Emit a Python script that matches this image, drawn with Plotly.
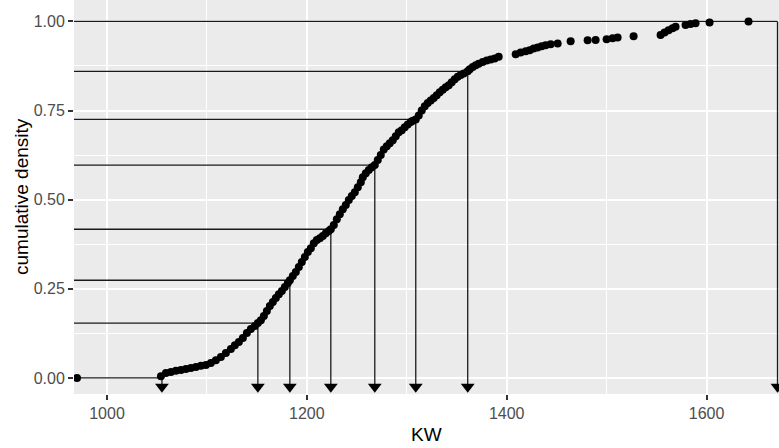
import plotly.graph_objects as go

# Empirical cumulative distribution of KW (sorted sample value, cumulative density)
KW = [
    970, 1054, 1059, 1064, 1069, 1074, 1079, 1084, 1089, 1094,
    1099, 1104, 1109, 1114, 1119, 1124, 1128, 1132, 1136, 1140,
    1144, 1148, 1151, 1154, 1157, 1160, 1163, 1166, 1169, 1172,
    1175, 1178, 1181, 1183, 1186, 1189, 1192, 1195, 1198, 1201,
    1204, 1207, 1210, 1213, 1216, 1219, 1222, 1224, 1227, 1230,
    1233, 1236, 1239, 1242, 1245, 1248, 1251, 1254, 1256, 1259,
    1262, 1265, 1268, 1271, 1274, 1277, 1280, 1283, 1286, 1289,
    1292, 1295, 1298, 1301, 1304, 1306, 1309, 1312, 1315, 1318,
    1321, 1324, 1327, 1330, 1333, 1336, 1339, 1342, 1345, 1348,
    1351, 1354, 1357, 1361, 1363, 1366, 1369, 1372, 1376, 1380,
    1384, 1388, 1392, 1409, 1414, 1419, 1423, 1427, 1431, 1435,
    1439, 1444, 1451, 1464, 1481, 1489, 1500, 1506, 1511, 1527,
    1554, 1558, 1562, 1566, 1569, 1579, 1584, 1589, 1603, 1642,
]
CUM_DENSITY = [
    0.000, 0.005, 0.014, 0.017, 0.020, 0.022, 0.025, 0.028, 0.031, 0.034,
    0.036, 0.042, 0.050, 0.059, 0.070, 0.081, 0.092, 0.101, 0.112, 0.126,
    0.137, 0.146, 0.154, 0.162, 0.174, 0.188, 0.202, 0.213, 0.224, 0.235,
    0.244, 0.255, 0.266, 0.274, 0.286, 0.297, 0.311, 0.325, 0.339, 0.353,
    0.364, 0.378, 0.387, 0.392, 0.398, 0.406, 0.412, 0.417, 0.429, 0.445,
    0.459, 0.473, 0.485, 0.499, 0.510, 0.521, 0.535, 0.549, 0.563, 0.574,
    0.583, 0.591, 0.597, 0.611, 0.625, 0.641, 0.650, 0.658, 0.667, 0.678,
    0.689, 0.695, 0.703, 0.711, 0.718, 0.721, 0.725, 0.736, 0.750, 0.762,
    0.771, 0.778, 0.785, 0.793, 0.801, 0.808, 0.815, 0.821, 0.829, 0.838,
    0.845, 0.850, 0.854, 0.860, 0.866, 0.872, 0.877, 0.881, 0.886, 0.890,
    0.893, 0.896, 0.901, 0.908, 0.913, 0.916, 0.919, 0.924, 0.927, 0.930,
    0.933, 0.936, 0.938, 0.944, 0.947, 0.948, 0.950, 0.953, 0.955, 0.958,
    0.962, 0.969, 0.975, 0.981, 0.985, 0.990, 0.993, 0.995, 0.997, 1.000,
]

# Selected read-offs: cumulative level -> KW value
Q_LEVEL = [0.0, 0.154, 0.274, 0.417, 0.597, 0.725, 0.860, 1.0]
Q_KW = [1055, 1151, 1183, 1224, 1268, 1309, 1361, 1671]

X_TICKS = [1000, 1200, 1400, 1600]
Y_TICKS = [0.0, 0.25, 0.50, 0.75, 1.00]
Y_TICK_TEXT = ["0.00", "0.25", "0.50", "0.75", "1.00"]

X_RANGE = [967, 1672.5]
Y_RANGE = [-0.045, 1.06]
ARROW_FOOT = -0.025

FONT = "Liberation Sans, Arial, sans-serif"
INK = "#1a1a1a"

# horizontal guides from the left edge to the curve, vertical drops to the axis
hx, hy, vx, vy = [], [], [], []
for lvl, kw in zip(Q_LEVEL, Q_KW):
    hx += [X_RANGE[0], kw, None]
    hy += [lvl, lvl, None]
    vx += [kw, kw, None]
    vy += [lvl, ARROW_FOOT, None]

fig = go.Figure()
fig.add_trace(go.Scatter(x=hx, y=hy, mode="lines",
                         line=dict(color=INK, width=1.3), hoverinfo="skip"))
fig.add_trace(go.Scatter(x=vx, y=vy, mode="lines",
                         line=dict(color=INK, width=1.3), hoverinfo="skip"))
fig.add_trace(go.Scatter(x=KW, y=CUM_DENSITY, mode="markers",
                         marker=dict(color="black", size=8, line=dict(width=0))))
fig.add_trace(go.Scatter(x=Q_KW, y=[ARROW_FOOT] * len(Q_KW), mode="markers",
                         marker=dict(symbol="triangle-down", color="black", size=12,
                                     line=dict(width=0)),
                         cliponaxis=False))

axis_common = dict(
    showline=False, zeroline=False, showgrid=True,
    gridcolor="white", gridwidth=1.8,
    ticks="outside", ticklen=5, tickwidth=1.5, tickcolor="#333333",
    tickfont=dict(family=FONT, size=16, color="#4d4d4d"),
)

fig.update_layout(
    width=779, height=448,
    margin=dict(l=74, r=0, t=0, b=54),
    paper_bgcolor="white", plot_bgcolor="#ebebeb",
    showlegend=False,
    xaxis=dict(range=X_RANGE, tickvals=X_TICKS,
               minor=dict(tickvals=[1100, 1300, 1500], showgrid=True,
                          gridcolor="white", gridwidth=0.9, ticks=""),
               **axis_common),
    yaxis=dict(range=Y_RANGE, tickvals=Y_TICKS, ticktext=Y_TICK_TEXT,
               minor=dict(tickvals=[0.125, 0.375, 0.625, 0.875], showgrid=True,
                          gridcolor="white", gridwidth=0.9, ticks=""),
               **axis_common),
    annotations=[
        dict(text="KW", xref="paper", yref="paper", x=0.5, y=0,
             yshift=-40, showarrow=False, yanchor="middle",
             font=dict(family=FONT, size=19, color="black")),
        dict(text="cumulative density", xref="paper", yref="paper", x=0, y=0.5,
             xshift=-53, textangle=-90, showarrow=False, xanchor="center",
             font=dict(family=FONT, size=19, color="black")),
    ],
)

fig.write_html("out.html")
